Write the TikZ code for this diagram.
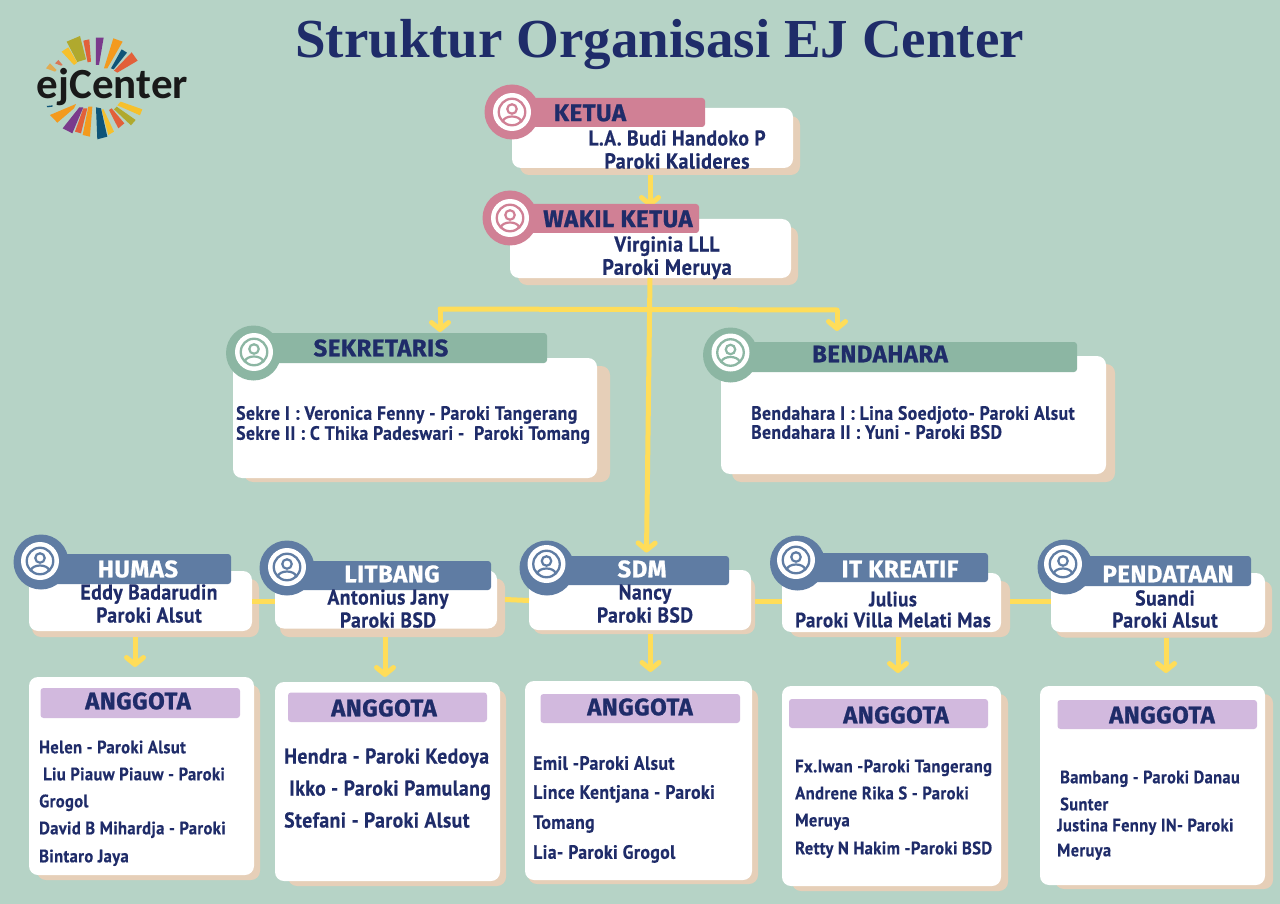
\documentclass[tikz,border=0pt]{standalone}
\usepackage{fontspec}
\usetikzlibrary{arrows.meta}
\setmainfont{PT Sans}
\newfontfamily\titlef{Liberation Serif}
\newfontfamily\labelf[FakeBold=0.8,LetterSpace=2]{Fira Sans}
\newfontfamily\bodyf[Scale=1.07,FakeStretch=0.92,FakeBold=0.4,LetterSpace=2]{PT Sans}
\newfontfamily\logof{Carlito}
\definecolor{bgc}{HTML}{B6D3C6}
\definecolor{pinkc}{HTML}{D08095}
\definecolor{slatec}{HTML}{5F7CA3}
\definecolor{greenc}{HTML}{8CB6A3}
\definecolor{lavc}{HTML}{D2B9DE}
\definecolor{shadc}{HTML}{E6CFB8}
\definecolor{navyc}{HTML}{1F2C69}
\definecolor{yelc}{HTML}{FFDD59}
\definecolor{lr}{HTML}{E2603A}
\definecolor{lo}{HTML}{F39A1E}
\definecolor{ly}{HTML}{F6C02C}
\definecolor{lg}{HTML}{B0A92E}
\definecolor{lp}{HTML}{7A3A8C}
\definecolor{ln}{HTML}{0F5478}
\tikzset{
  cardbox/.style={draw=none,fill=white,rounded corners=9pt,inner sep=0pt,outer sep=0pt},
  shadowbox/.style={draw=none,fill=shadc,rounded corners=9pt,inner sep=0pt,outer sep=0pt},
  barbox/.style={draw=none,rounded corners=3pt,inner sep=0pt,outer sep=0pt},
  conn/.style={draw=yelc,line width=5pt},
  connarrow/.style={conn,-{Straight Barb[round,length=7pt,width=17pt,line width=5pt]}},
  headlabel/.style={font=\labelf\bfseries\fontsize{24}{24}\selectfont,inner sep=0pt},
  bodytext/.style={text=navyc,inner sep=0pt},
}
\newcount\tcnt
% \txt{x}{y}{anchor}{size}{text}
\newcommand{\txt}[5]{\global\advance\tcnt by 1
  \node[bodytext,anchor=#3,text height=#4*0.75 pt,text depth=0pt,font=\bodyf\bfseries\fontsize{#4}{#4}\selectfont] (t\the\tcnt) at (#1,#2) {#5};}
\newcommand{\lab}[5]{\global\advance\tcnt by 1
  \node[headlabel,text=#4] (t\the\tcnt) at (#1,#2) {\fontsize{#3}{#3}\selectfont #5};}
% \card{name}{x0}{y0}{x1}{y1}{sx0}{sx1}{sy1}
\newcommand{\card}[8]{%
  \pgfmathsetmacro\cxa{(#6+#7)/2}\pgfmathsetmacro\cya{(#3+8+#8)/2}%
  \pgfmathsetmacro\cwa{#7-#6}\pgfmathsetmacro\cha{#8-#3-8}%
  \node[shadowbox,minimum width=\cwa pt,minimum height=\cha pt] (#1S) at (\cxa,\cya) {};%
  \pgfmathsetmacro\cxa{(#2+#4)/2}\pgfmathsetmacro\cya{(#3+#5)/2}%
  \pgfmathsetmacro\cwa{#4-#2}\pgfmathsetmacro\cha{#5-#3}%
  \node[cardbox,minimum width=\cwa pt,minimum height=\cha pt] (#1) at (\cxa,\cya) {};}
% \barr{name}{x0}{y0}{x1}{y1}{colour}
\newcommand{\barr}[6]{%
  \pgfmathsetmacro\cxa{(#2+#4)/2}\pgfmathsetmacro\cya{(#3+#5)/2}%
  \pgfmathsetmacro\cwa{#4-#2}\pgfmathsetmacro\cha{#5-#3}%
  \node[barbox,fill=#6,minimum width=\cwa pt,minimum height=\cha pt] (#1) at (\cxa,\cya) {};}
% \badge{name}{cx}{cy}{wx}{wy}{colour}: big disc at c, white disc and icon at w
\newcommand{\badge}[6]{%
  \node[circle,fill=#6,inner sep=0pt,minimum size=55pt] (#1) at (#2,#3) {};
  \node[circle,fill=white,inner sep=0pt,minimum size=38pt] (#1W) at (#4,#5) {};
  \node[circle,draw=#6,line width=2.3pt,inner sep=0pt,minimum size=26.5pt] (#1R) at (#4,#5) {};
  \node[circle,draw=#6,line width=2.2pt,inner sep=0pt,minimum size=9.5pt] (#1H) at (#4,#5-3) {};
  \draw[#6,line width=2.2pt] (#4-9,#5+9) .. controls (#4-7,#5+3) and (#4+7,#5+3) .. (#4+9,#5+9);}
\newcommand{\ray}[5]{\fill[#1] (#2) -- (#3) -- (#4) -- (#5) -- cycle;}
\begin{document}
\begin{tikzpicture}[x=1pt,y=-1pt]
\path[use as bounding box,fill=bgc] (0,0) rectangle (1280,904);

% logo
\begin{scope}[x=0.3333pt,y=-0.3333pt]
\ray{lg}{200,125}{240,108}{258,178}{232,186}
\ray{lr}{250,122}{268,118}{273,185}{263,187}
\ray{lp}{288,113}{311,113}{297,195}{288,195}
\ray{lo}{340,115}{368,125}{322,205}{312,205}
\ray{ln}{365,148}{381,158}{341,208}{333,205}
\ray{lr}{395,157}{413,182}{352,218}{342,212}
\ray{ly}{185,155}{205,142}{232,188}{222,195}
\ray{lo!70!bgc}{138,205}{150,190}{170,210}{165,215}
\ray{lr!80!bgc}{165,190}{175,180}{188,195}{183,197}
\ray{ly}{362,305}{427,328}{420,346}{352,316}
\ray{lg}{350,320}{407,360}{393,376}{342,328}
\ray{lr}{335,325}{373,370}{355,385}{327,330}
\ray{ly}{310,327}{342,395}{325,405}{305,330}
\ray{ln}{288,322}{303,325}{322,410}{292,418}
\ray{lo}{265,320}{277,320}{270,410}{248,405}
\ray{lr}{250,325}{262,325}{243,400}{225,395}
\ray{lp}{238,322}{250,322}{217,400}{188,385}
\ray{lo}{150,345}{172,368}{222,325}{228,312}
\ray{ln}{140,318}{158,316}{158,320}{143,322}
\end{scope}
\node[inner sep=0pt,anchor=base,font=\logof\bfseries\fontsize{43}{43}\selectfont,text=black!90] (logotext) at (112.5,99) {ejCenter};

% title
\node[inner sep=0pt,text=navyc,font=\titlef\bfseries\fontsize{55}{55}\selectfont] (title) at (659.5,44) {Struktur Organisasi EJ Center};

% cards
\card{ketua}{512}{108}{793}{168}{520}{800}{175}
\card{wakil}{510}{219}{791}{278}{518}{798}{285}
\card{sekre}{233}{358}{597}{478}{244}{610}{482}
\card{benda}{721}{356}{1106}{474}{732}{1115}{482}
\card{humas}{29}{571}{252}{631}{32}{259}{637}
\card{litbang}{275}{570.5}{497}{628.5}{280}{505}{637}
\card{sdm}{529}{570}{751}{630}{533}{755}{634}
\card{itk}{782}{573}{1001}{632}{790}{1010}{637}
\card{pend}{1051}{573}{1265}{632}{1056}{1272}{637.5}
\card{agA}{29}{677}{254}{875}{37}{260}{880}
\card{agB}{275}{682}{500}{881}{288}{506}{886}
\card{agC}{525}{681}{752}{880}{528}{758}{884}
\card{agD}{782}{686}{1001}{886}{792}{1008}{891}
\card{agE}{1040}{686}{1265}{885}{1055}{1273}{889}

% connectors
\coordinate (wakilIn) at (650,207);
\coordinate (hubL) at (440,309);
\coordinate (hubR) at (837,310);
\coordinate (hub) at (650,309);
\coordinate (sekreIn) at (440,332);
\coordinate (bendaIn) at (837,331);
\coordinate (sdmIn) at (646.5,552.5);
\draw[connarrow] (ketuaS.south -| wakilIn) -- (wakilIn);
\draw[connarrow] (wakil.south -| hub) -- (sdmIn);
\draw[conn,line cap=round] (hubL) -- (hubR);
\draw[connarrow] (hubL) -- (sekreIn);
\draw[connarrow] (hubR) -- (bendaIn);
\draw[conn] (humas.east) -- (humas.east -| litbang.west);
\draw[conn] (litbang.east -| litbangS.east) -- ([yshift=-1pt]litbang.east -| sdm.west);
\draw[conn] ([yshift=-1pt]sdm.east -| sdmS.east) -- ([yshift=-1pt]sdm.east -| itk.west);
\draw[conn] ([yshift=1pt]itk.east -| itkS.east) -- ([yshift=1pt]itk.east -| pend.west);
\coordinate (agAIn) at (135,667);
\coordinate (agBIn) at (385,677);
\coordinate (agCIn) at (650.5,672);
\coordinate (agDIn) at (898,673);
\coordinate (agEIn) at (1166,673);
\draw[connarrow] (humasS.south -| agAIn) -- (agAIn);
\draw[connarrow] (litbangS.south -| agBIn) -- (agBIn);
\draw[connarrow] (sdmS.south -| agCIn) -- (agCIn);
\draw[connarrow] (itkS.south -| agDIn) -- (agDIn);
\draw[connarrow] (pendS.south -| agEIn) -- (agEIn);

% bars and badges
\barr{ketuaB}{505}{98}{705}{127}{pinkc}
\badge{ketuaI}{512}{112}{512}{112}{pinkc}
\barr{wakilB}{505}{204}{699}{233}{pinkc}
\badge{wakilI}{510}{218}{510}{218}{pinkc}
\barr{sekreB}{254}{333}{547}{363}{greenc}
\badge{sekreI}{253.5}{353}{254}{352}{greenc}
\barr{bendaB}{731}{342}{1077}{372}{greenc}
\badge{bendaI}{730.5}{355}{730.5}{352.5}{greenc}
\barr{humasB}{40}{554}{231}{584}{slatec}
\badge{humasI}{41}{562}{40}{561}{slatec}
\barr{litbangB}{287}{561}{491}{590}{slatec}
\badge{litbangI}{287}{568}{287}{567}{slatec}
\barr{sdmB}{546}{556}{729}{585}{slatec}
\badge{sdmI}{547}{568}{546.5}{564}{slatec}
\barr{itkB}{794}{553}{988}{582}{slatec}
\badge{itkI}{797.5}{563}{796}{560}{slatec}
\barr{pendB}{1064}{556}{1251}{586}{slatec}
\badge{pendI}{1065}{567}{1063}{564}{slatec}
\barr{agAB}{40.5}{688}{240}{718}{lavc}
\barr{agBB}{288}{692.5}{487}{722}{lavc}
\barr{agCB}{540.5}{694}{740}{723}{lavc}
\barr{agDB}{789}{699}{988}{728}{lavc}
\barr{agEB}{1057.5}{700}{1257}{729}{lavc}

% headings
\lab{590}{113}{24}{navyc}{KETUA}
\lab{618}{219}{24}{navyc}{WAKIL KETUA}
\lab{381}{348}{24}{navyc}{SEKRETARIS}
\lab{880}{354}{24}{navyc}{BENDAHARA}
\lab{138}{569}{24}{white}{HUMAS}
\lab{392}{574}{24}{white}{LITBANG}
\lab{642}{569}{24}{white}{SDM}
\lab{900}{569}{24}{white}{IT KREATIF}
\lab{1168}{574}{24}{white}{PENDATAAN}
\lab{138}{701}{24}{navyc}{ANGGOTA}
\lab{384}{708}{24}{navyc}{ANGGOTA}
\lab{640}{707}{24}{navyc}{ANGGOTA}
\lab{896}{715}{24}{navyc}{ANGGOTA}
\lab{1162}{715}{24}{navyc}{ANGGOTA}

% top cards
\txt{677}{138}{center}{20}{L.A. Budi Handoko P}
\txt{677}{161}{center}{20.4}{Paroki Kalideres}
\txt{667}{244}{center}{20}{Virginia LLL}
\txt{667}{267}{center}{20.7}{Paroki Meruya}
\txt{236}{413}{west}{18}{Sekre I : Veronica Fenny - Paroki Tangerang}
\txt{236}{433}{west}{18}{Sekre II : C Thika Padeswari -\ \ Paroki Tomang}
\txt{751}{413}{west}{18}{Bendahara I : Lina Soedjoto- Paroki Alsut}
\txt{751}{432}{west}{18}{Bendahara II : Yuni - Paroki BSD}
\txt{149}{592}{center}{20}{Eddy Badarudin}
\txt{149}{615}{center}{20}{Paroki Alsut}
\txt{388}{597}{center}{20}{Antonius Jany}
\txt{388}{620}{center}{20}{Paroki BSD}
\txt{645}{592}{center}{20}{Nancy}
\txt{645}{615}{center}{20}{Paroki BSD}
\txt{893}{599}{center}{19.4}{Julius}
\txt{893}{620}{center}{19.4}{Paroki Villa Melati Mas}
\txt{1165}{598}{center}{20}{Suandi}
\txt{1165}{620}{center}{20}{Paroki Alsut}
% lists
\txt{39}{747}{west}{16.8}{Helen - Paroki Alsut}
\txt{43}{774}{west}{16.8}{Liu Piauw Piauw - Paroki}
\txt{39}{801}{west}{16.8}{Grogol}
\txt{39}{828}{west}{16.8}{David B Mihardja - Paroki}
\txt{39}{856}{west}{16.8}{Bintaro Jaya}
\txt{284}{756}{west}{20}{Hendra - Paroki Kedoya}
\txt{289}{788}{west}{20}{Ikko - Paroki Pamulang}
\txt{284}{820}{west}{20}{Stefani - Paroki Alsut}
\txt{533}{763}{west}{18}{Emil -Paroki Alsut}
\txt{533}{792}{west}{18}{Lince Kentjana - Paroki}
\txt{533}{822}{west}{18}{Tomang}
\txt{533}{852}{west}{18}{Lia- Paroki Grogol}
\txt{795}{766}{west}{16.9}{Fx.Iwan -Paroki Tangerang}
\txt{795}{793}{west}{16.9}{Andrene Rika S - Paroki}
\txt{795}{820}{west}{16.9}{Meruya}
\txt{795}{848}{west}{16.9}{Retty N Hakim -Paroki BSD}
\txt{1060}{777}{west}{16.7}{Bambang - Paroki Danau}
\txt{1060}{804}{west}{16.7}{Sunter}
\txt{1057}{825}{west}{16.7}{Justina Fenny IN- Paroki}
\txt{1057}{850}{west}{16.7}{Meruya}
\end{tikzpicture}
\end{document}
